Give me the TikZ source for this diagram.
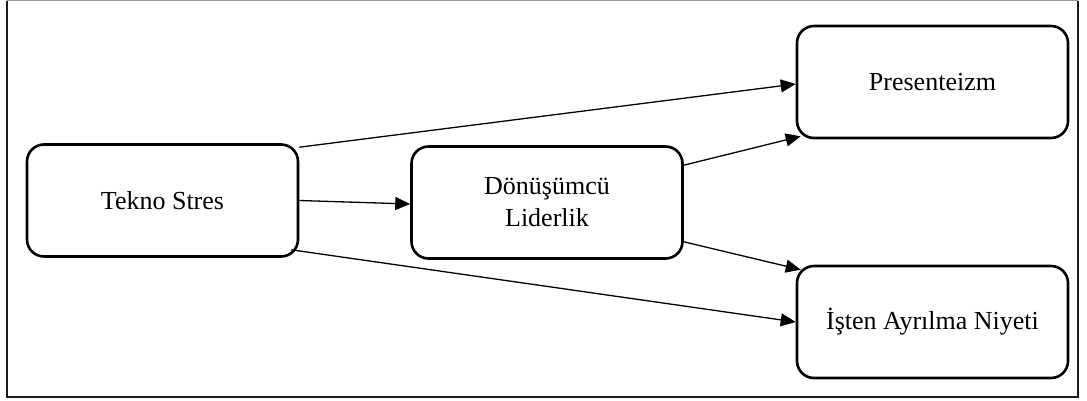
\documentclass[tikz,border=0pt]{standalone}
\usepackage{fontspec}
\setmainfont{Liberation Serif}
\usetikzlibrary{arrows.meta, positioning}
\definecolor{cframe}{HTML}{1A1A1A}
\definecolor{cgrey}{HTML}{9A9A9A}
\tikzset{
  every picture/.style={font=\fontsize{13}{16}\selectfont, line width=0.6pt},
  box/.style={draw=black, fill=white, rounded corners=8.5pt, align=center, line width=1.3pt,
    minimum width=135.5pt, minimum height=56pt, inner sep=2pt},
  arrow/.style={-{Triangle[length=7.5pt, width=6.5pt]}, draw=black, line width=0.65pt},
  frame/.style={draw=cframe, line width=1.4pt},
}

\begin{document}
\begin{tikzpicture}[x=0.5pt, y=-0.5pt]
  \useasboundingbox (0,0) rectangle (1087,401);
  % outer frame
  \draw[frame] (7,1) -- (7,397) -- (1078,397) -- (1078,1);
  \draw[draw=cgrey, line width=0.5pt] (7,1) -- (1078,1);

  \node[box] (tekno) at (162.5,200.5) {Tekno Stres};
  \node[box] (donusum) at (547,202.5) {Dönüşümcü\\ Liderlik};
  \node[box] (presen) at (932.5,82) {Presenteizm};
  \node[box] (isten) at (932.5,322) {İşten Ayrılma Niyeti};

  \draw[arrow] ([yshift=-2pt]tekno.north east) -- ([yshift=-1pt]presen.west);
  \draw[arrow] (tekno.east) -- ([yshift=-0.75pt]donusum.west);
  \draw[arrow] ([xshift=-4pt, yshift=4pt]tekno.south east) -- (isten.west);
  \draw[arrow] ([yshift=-10pt]donusum.north east) -- ([xshift=2.5pt, yshift=1.5pt]presen.south west);
  \draw[arrow] ([yshift=9pt]donusum.south east) -- ([xshift=2.5pt, yshift=-2.5pt]isten.north west);
\end{tikzpicture}
\end{document}
